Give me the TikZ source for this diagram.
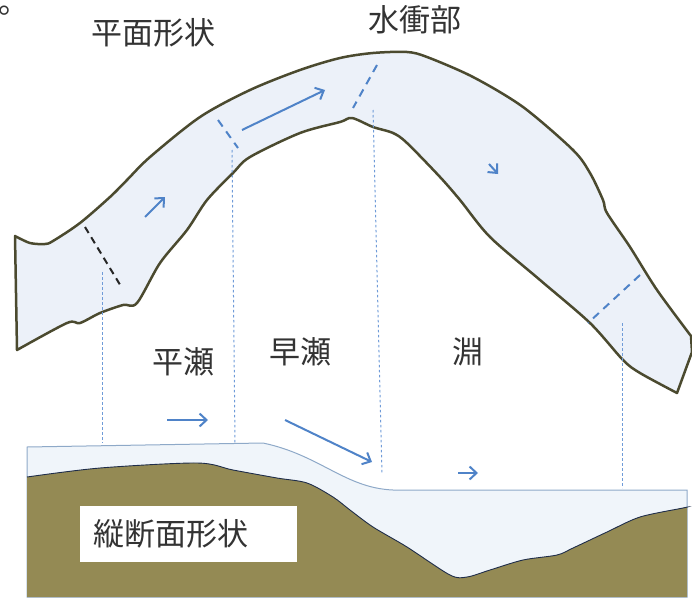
\documentclass[tikz,border=0pt]{standalone}
\usepackage{fontspec}
\newfontfamily\jpfont{Noto Sans CJK JP}
\usetikzlibrary{arrows.meta}
\definecolor{riverfill}{HTML}{ECF1F9}
\definecolor{riverline}{HTML}{4B4A2F}
\definecolor{waterfill}{HTML}{F0F5FA}
\definecolor{wateredge}{HTML}{8EA9C8}
\definecolor{soil}{HTML}{948A54}
\definecolor{soilline}{HTML}{1F2D4A}
\definecolor{flowblue}{HTML}{4F83C8}
\definecolor{guideblue}{HTML}{6F9BD8}
\definecolor{labelgray}{HTML}{333333}

\begin{document}
\begin{tikzpicture}[x=1pt,y=-1pt,
    lbl/.style={font=\jpfont\fontsize{31}{31}\selectfont,text=labelgray,inner sep=0pt},
    flow/.style={-{Straight Barb[length=7pt,width=13pt]},flowblue,line width=2pt},
    sect/.style={flowblue,line width=2pt,dash pattern=on 8pt off 6pt},
    guide/.style={guideblue,line width=1pt,dash pattern=on 2.5pt off 2.5pt}]
        \useasboundingbox (0,0) rectangle (692,599);

        % plan view of the channel
        \draw[fill=riverfill,draw=riverline,line width=2.5pt,line join=round]
            plot[smooth,tension=0.5] coordinates {(15,236) (30,243) (45,244) (53,241) (80,223)
                (110,197) (127,180) (150,157) (200,117) (250,90) (300,70) (340,58) (373,53)
                (407,52) (427,57) (473,77) (523,107) (573,150) (590,173) (603,200) (607,213)
                (630,247) (657,290) (691,336)}
            -- (692,352) -- (677,393)
            -- plot[smooth,tension=0.5] coordinates {(677,393) (640,373) (623,360) (590,323)
                (540,280) (490,237) (460,200) (440,177) (407,143) (393,133) (373,127)
                (352,118) (340,122) (300,133) (250,157) (233,173) (207,200) (187,230)
                (160,263) (137,303) (123,305) (100,313) (80,323) (67,323) (17,350)}
            -- cycle;

        % longitudinal section
        \draw[fill=waterfill,draw=wateredge,line width=1pt]
            (27,447) -- (263,443)
            .. controls (320,455) and (345,488) .. (393,490)
            -- (687,490) -- (687,597) -- (27,597) -- cycle;
        \fill[soil] plot[smooth,tension=0.5] coordinates {(27,477) (100,468) (197,463)
                (233,470) (277,478) (307,483) (333,497) (350,510) (373,527) (407,547)
                (450,575) (467,577) (490,570) (523,560) (557,555) (573,548) (607,532)
                (640,517) (683,508) (687,507)}
            -- (687,597) -- (27,597) -- cycle;
        \draw[soilline,line width=0.9pt] plot[smooth,tension=0.5] coordinates {(27,477)
                (100,468) (197,463) (233,470) (277,478) (307,483) (333,497) (350,510)
                (373,527) (407,547) (450,575) (467,577) (490,570) (523,560) (557,555)
                (573,548) (607,532) (640,517) (683,508) (687,507)};

        \coordinate (G1t) at (102,272);
        \coordinate (G1b) at (102,443);
        \coordinate (G2t) at (232,150);
        \coordinate (G2b) at (235,443);
        \coordinate (G3t) at (373,110);
        \coordinate (G3b) at (382,473);
        \coordinate (G4t) at (622,323);
        \coordinate (G4b) at (622,488);

        \draw[guide] (G1t) -- (G1b);
        \draw[guide] (G2t) -- (G2b);
        \draw[guide] (G3t) -- (G3b);
        \draw[guide] (G4t) -- (G4b);

        % cross lines
        \draw[black!85,line width=2pt,dash pattern=on 7pt off 5pt] (85,227) -- (122,288);
        \draw[sect] (218,120) -- (238,148);
        \draw[sect] (377,65) -- (353,108);
        \draw[sect] (640,275) -- (588,323);

        % flow
        \draw[flow] (145,217) -- (165,197);
        \draw[flow] (242,130) -- (325,90);
        \draw[flow] (489,164) -- (498,174);
        \draw[flow] (167,420) -- (208,420);
        \draw[flow] (285,420) -- (372,462);
        \draw[flow] (458,473) -- (478,473);

        \node[lbl] (plan) at (153,33) {平面形状};
        \node[lbl] (suisho) at (415,20) {水衝部};
        \node[lbl] (hirase) at (183,362) {平瀬};
        \node[lbl] (hayase) at (300,352) {早瀬};
        \node[lbl] (fuchi) at (468,352) {淵};
        \node[lbl,fill=white,anchor=west,text width=191pt,inner xsep=13pt,
            minimum height=56pt,align=left] (juudan) at (80,534) {縦断面形状};
        \node[lbl,anchor=base west] (maru) at (-2,14) {\raisebox{0pt}[0pt][0pt]{。}};
    \end{tikzpicture}
\end{document}
